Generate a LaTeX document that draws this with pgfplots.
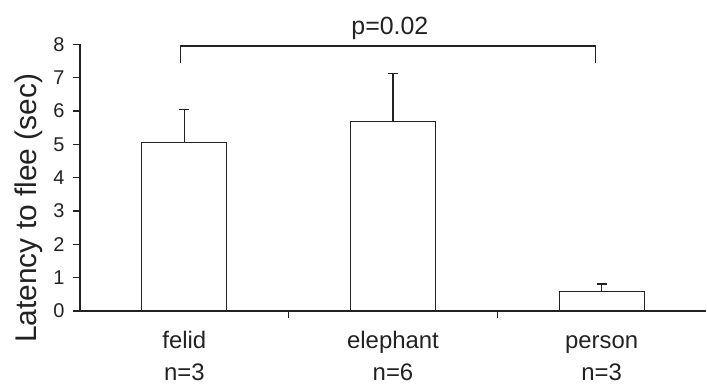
\documentclass[border=0pt]{standalone}
\usepackage{pgfplots}
\pgfplotsset{compat=1.18}
\usepackage{fontspec}
\setmainfont{Liberation Sans}
\definecolor{ink}{HTML}{222222}
\begin{document}
\begin{tikzpicture}
\begin{axis}[
  name=ax,
  scale only axis,
  width=626bp, height=266.7bp,
  xmin=-0.5, xmax=2.5, ymin=0, ymax=8,
  axis x line*=bottom, axis y line*=left,
  axis line style={ink, line width=1.2bp},
  every tick/.style={ink, line width=1.2bp},
  tick align=outside,
  major tick length=7bp, minor tick length=7bp,
  ytick={0,1,...,8},
  xtick={0,1,2},
  xticklabels={felid\\n=3, elephant\\n=6, \vphantom{l}person\\n=3},
  minor xtick={0.5,1.5},
  x tick style={draw=none},
  minor x tick style={draw=ink, line width=1.2bp},
  xticklabel style={align=center, font=\fontsize{24}{32}\selectfont, text=ink, yshift=-10bp},
  yticklabel style={font=\fontsize{20}{24}\selectfont, text=ink, xshift=-5bp},
  /pgf/number format/assume math mode=true,
  ylabel={Latency to flee (sec)},
  ylabel style={at={(axis description cs:-0.0815,0.385)}, anchor=center, font=\fontsize{30}{34}\selectfont, text=ink},
  clip=false,
]
\addplot[ybar, bar width=85bp, draw=ink, fill=white, line width=1.2bp,
  error bars/.cd, y dir=plus, y explicit,
  error bar style={ink, line width=1.2bp},
  error mark options={rotate=90, mark size=5bp, ink, line width=1.2bp}]
  coordinates {(0,5.05) +- (0,1.0) (1,5.68) +- (0,1.45) (2,0.58) +- (0,0.23)};
\addplot[ink, line width=1.2bp, sharp plot, mark=none]
  coordinates {(-0.02,7.45) (-0.02,7.95) (1.97,7.95) (1.97,7.45)};
\node[anchor=base, font=\fontsize{25}{30}\selectfont, text=ink] at (axis cs:0.985,8.3) {p=0.02};
\end{axis}
\pgfresetboundingbox
\path[use as bounding box] ([shift={(-80bp,-74bp)}]ax.south west) rectangle ([shift={(1bp,44.3bp)}]ax.north east);
\end{tikzpicture}
\end{document}
